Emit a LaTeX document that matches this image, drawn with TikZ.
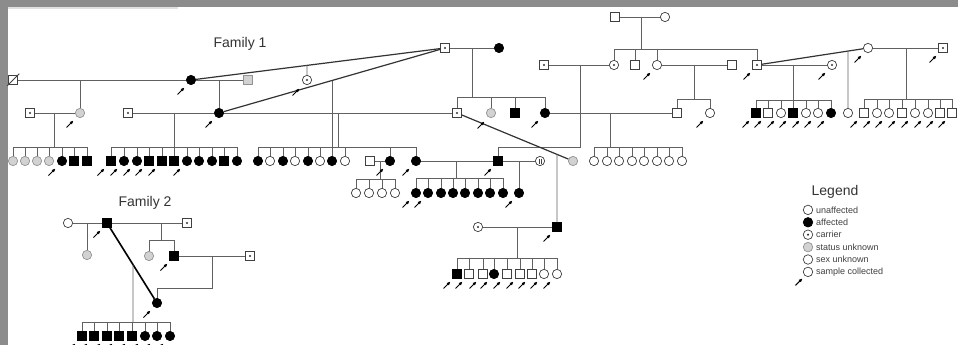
\documentclass[tikz,border=0pt]{standalone}
\usepackage{fontspec}
\setmainfont{Liberation Sans}
\usetikzlibrary{arrows.meta,calc}
\tikzset{
  ln/.style={draw=black!62,line width=0.8pt},
  lnk/.style={draw=black!80,line width=1.2pt},
  sym/.style={draw=black!75,line width=0.7pt,inner sep=0pt,minimum size=9.3pt,fill=white},
  pm/.style={sym,rectangle,minimum size=8.8pt},
  pf/.style={sym,circle},
  pma/.style={pm,fill=black,draw=black},
  pfa/.style={pf,fill=black,draw=black},
  pmu/.style={pm,fill=gray!35,draw=gray!85},
  pfu/.style={pf,fill=gray!35,draw=gray!85},
  cdot/.style={path picture={\fill[black!80] (path picture bounding box.center) circle[radius=1.2pt];}},
  pmc/.style={pm,cdot},
  pfc/.style={pf,cdot},
  smp/.pic={\draw[black,line width=1pt,-{Latex[length=3.8pt,width=3.5pt]}] (-4.5,4.5) -- (2.5,-2.5);},
  lab/.style={font=\fontsize{14}{14}\selectfont,text=black!80,inner sep=0pt},
  leg/.style={font=\fontsize{9}{10}\selectfont,text=black!75,anchor=west,inner sep=0pt}
}
\begin{document}
\begin{tikzpicture}[x=1pt,y=-1pt]
\useasboundingbox (0,0) rectangle (958,345);
\fill[white] (0,0) rectangle (958,345);
\fill[black!45] (0,0) rectangle (958,7.5);
\fill[black!45] (0,0) rectangle (8,345);
\fill[black!12] (8,7.5) rectangle (178,9.5);

\node[lab] (fam1) at (240,44) {Family 1};
\node[lab] (fam2) at (145,203) {Family 2};

% ---------- Family 1 : single nodes ----------
\node[pm] (a1) at (13,80) {};
\node[pfa] (a2) at (191,80) {};
\node[pmu] (a3) at (248,80) {};
\node[pfc] (a4) at (307,80) {};
\node[pmc] (a5) at (445,48) {};
\node[pfa] (a6) at (499,48) {};

\node[pmc] (b1) at (30,113) {};
\node[pfu] (b2) at (80,113) {};
\node[pmc] (b3) at (128,113) {};
\node[pfa] (b4) at (219,113) {};
\node[pmc] (b5) at (457,113) {};
\node[pfu] (b6) at (491,113) {};
\node[pma] (b7) at (515,113) {};
\node[pfa] (b8) at (545,113) {};
\node[pm] (b9) at (677,113) {};
\node[pf] (b10) at (710,113) {};

\node[pm] (t1) at (615,17) {};
\node[pf] (t2) at (665,17) {};
\node[pmc] (c1) at (544,65) {};
\node[pfc] (c2) at (614,65) {};
\node[pm] (c3) at (635,65) {};
\node[pf] (c4) at (657,65) {};
\node[pm] (c5) at (732,65) {};
\node[pmc] (c6) at (757,65) {};
\node[pfc] (c7) at (832,65) {};
\node[pf] (c8) at (868,48) {};
\node[pmc] (c9) at (943,48) {};

\node[pm] (sp1) at (370,161) {};
\node[pma] (d1) at (498,161) {};
\node[pf] (d2) at (540,161) {};
\node[pfa] (d3) at (519,193) {};
\node[pfu] (g1) at (573,161) {};
\node[pma] (h1) at (557,227) {};
\node[pfc] (h2) at (478,227) {};
\node[pf] (e0) at (848,113) {};

% deceased slash and marks
\draw[black!75,line width=0.8pt] ($(a1.south west)+(-1,1)$) -- ($(a1.north east)+(1.5,-1.5)$);
\draw[black!75,line width=0.6pt] ($(d2.center)+(-1.2,-2.5)$) -- ($(d2.center)+(-1.2,2.5)$);
\draw[black!75,line width=0.6pt] ($(d2.center)+(1.2,-2.5)$) -- ($(d2.center)+(1.2,2.5)$);

% ---------- sibships (rows) ----------
\foreach \x/\t [count=\i] in {13/pfu,25/pfu,37/pfu,49/pfu,62/pfa,74/pma,87/pma}
  {\node[\t] (sa\i) at (\x,161) {}; \draw[ln] (sa\i) -- (\x,147);}
\foreach \x/\t [count=\i] in {111/pma,124/pfa,137/pfa,149/pma,162/pma,174/pma,187/pfa,199/pfa,212/pfa,224/pma,237/pfa}
  {\node[\t] (sb\i) at (\x,161) {}; \draw[ln] (sb\i) -- (\x,147);}
\foreach \x/\t [count=\i] in {258/pfa,270/pf,283/pfa,295/pf,308/pfa,320/pf,332/pfa,345/pf,390/pfa,416/pfa}
  {\node[\t] (sc\i) at (\x,161) {}; \draw[ln] (sc\i) -- (\x,147);}
\foreach \x [count=\i] in {356,369,382,395}
  {\node[pf] (sd\i) at (\x,193) {}; \draw[ln] (sd\i) -- (\x,179);}
\foreach \x [count=\i] in {416,428,441,453,465,478,490,503}
  {\node[pfa] (se\i) at (\x,193) {}; \draw[ln] (se\i) -- (\x,178);}
\foreach \x [count=\i] in {594,607,619,632,644,657,669,682}
  {\node[pf] (sf\i) at (\x,161) {}; \draw[ln] (sf\i) -- (\x,147);}
\foreach \x/\t [count=\i] in {457/pma,469/pm,483/pm,494/pfa,507/pm,520/pm,532/pm,544/pf,557/pf}
  {\node[\t] (sg\i) at (\x,274) {}; \draw[ln] (sg\i) -- (\x,258); \pic at ($(sg\i)+(-9,10)$) {smp};}
\foreach \x/\t [count=\i] in {756/pma,768/pm,781/pf,793/pma,806/pf,818/pf,831/pfa}
  {\node[\t] (sh\i) at (\x,113) {}; \draw[ln] (sh\i) -- (\x,100); \pic at ($(sh\i)+(-9,10)$) {smp};}
\foreach \x/\t [count=\i] in {864/pm,877/pf,889/pf,902/pm,915/pf,928/pf,940/pm,952/pm}
  {\node[\t] (si\i) at (\x,113) {}; \draw[ln] (si\i) -- (\x,99); \pic at ($(si\i)+(-9,10)$) {smp};}

% ---------- Family 1 : connectors ----------
\draw[ln] (a1) -- (a2);
\draw[ln] (80,80) -- (b2);
\draw[ln] (a2) -- (a3);
\draw[ln] (219,80) -- (b4);
\draw[lnk] (a2) -- (a5);
\draw[ln] ($(a2)!0.4567!(a5)$) -- (a4);
\draw[lnk] (b4) -- (a5);
\draw[ln] ($(b4)!0.5!(a5)$) -- (332,147);
\draw[ln] (b1) -- (b2);
\draw[ln] (54,113) -- (54,147);
\draw[ln] (13,147) -- (87,147);
\draw[ln] (b3) -- (b4);
\draw[ln] (174,113) -- (174,147);
\draw[ln] (111,147) -- (237,147);
\draw[ln] (b4) -- (b5);
\draw[ln] (338,113) -- (338,147);
\draw[ln] (258,147) -- (416,147);

\draw[ln] (a5) -- (a6);
\draw[ln] (472,48) -- (472,97);
\draw[ln] (457,97) -- (545,97);
\foreach \n in {b5,b6,b7,b8} \draw[ln] (\n) -- (\n |- 0,97);

\draw[ln] (t1) -- (t2);
\draw[ln] (641,17) -- (641,49);
\draw[ln] (614,49) -- (757,49);
\foreach \n in {c2,c3,c4,c6} \draw[ln] (\n) -- (\n |- 0,49);

\draw[ln] (c1) -- (c2);
\draw[ln] (580,65) -- (580,147) -- (498,147) -- (d1);
\draw[ln] (c4) -- (c5);
\draw[ln] (694,65) -- (694,99);
\draw[ln] (677,99) -- (710,99);
\foreach \n in {b9,b10} \draw[ln] (\n) -- (\n |- 0,99);
\draw[ln] (b8) -- (b9);
\draw[ln] (610,113) -- (610,147);
\draw[ln] (594,147) -- (682,147);

\draw[ln] (c6) -- (c7);
\draw[ln] (793,65) -- (793,100);
\draw[ln] (756,100) -- (831,100);
\draw[lnk] (c6) -- (c8);
\draw[ln] ($(c6)!0.82!(c8)$) -- (e0);
\draw[ln] (c8) -- (c9);
\draw[ln] (906,48) -- (906,99);
\draw[ln] (864,99) -- (952,99);

\draw[ln] (sp1) -- (sc9);
\draw[ln] (380,161) -- (380,179);
\draw[ln] (356,179) -- (395,179);
\draw[ln] (sc10) -- (d1);
\draw[ln] (456,161) -- (456,178);
\draw[ln] (416,178) -- (503,178);
\draw[ln] (d1) -- (d2);
\draw[ln] (519,161) -- (d3);
\draw[lnk] (b5) -- (g1);
\draw[ln] ($(b5)!0.862!(g1)$) -- (h1);
\draw[ln] (h2) -- (h1);
\draw[ln] (517,227) -- (517,258);
\draw[ln] (457,258) -- (557,258);

% sample arrows, family 1
\foreach \n in {a2,b2,b4,b8,b10,c4,c6,c7,sa5,sb1,sb2,sb3,sb4,sb5,sb7,sc9,sc10,se1,se2,d1,d3,h1}
  \pic at ($(\n)+(-9,10)$) {smp};
\pic at ($(c8)+(-9,10)$) {smp};
\pic at ($(c9)+(-9,10)$) {smp};
\pic at (297,91) {smp};
\pic at (482,124) {smp};

% ---------- Family 2 ----------
\node[pf] (f1) at (68,223) {};
\node[pma] (f2) at (107,223) {};
\node[pmc] (f3) at (187,223) {};
\node[pfu] (f4) at (87,255) {};
\node[pfu] (f5) at (149,256) {};
\node[pma] (f6) at (174,256) {};
\node[pmc] (f7) at (250,256) {};
\node[pfa] (f8) at (157,303) {};
\foreach \x/\t [count=\i] in {82/pma,94/pma,107/pma,119/pma,132/pma,145/pfa,157/pfa,170/pfa}
  {\node[\t] (sj\i) at (\x,336) {}; \draw[ln] (sj\i) -- (\x,322); \pic at ($(sj\i)+(-9,10)$) {smp};}
\draw[ln] (f1) -- (f2);
\draw[ln] (87,223) -- (f4);
\draw[ln] (f2) -- (f3);
\draw[ln] (161,223) -- (161,240);
\draw[ln] (149,240) -- (174,240);
\foreach \n in {f5,f6} \draw[ln] (\n) -- (\n |- 0,240);
\draw[ln] (f6) -- (f7);
\draw[ln] (212,256) -- (212,288) -- (157,288) -- (f8);
\draw[black,line width=1.6pt] (f2) -- (f8);
\draw[ln] ($(f2)!0.52!(f8)$) -- (133,322);
\draw[ln] (82,322) -- (170,322);
\foreach \n in {f2,f6,f8} \pic at ($(\n)+(-9,10)$) {smp};

% ---------- Legend ----------
\node[lab] (legt) at (835,192) {Legend};
\foreach \t/\s [count=\i] in {unaffected/pf,affected/pfa,carrier/pfc,status unknown/pfu,sex unknown/pf,sample collected/pf}
  {\node[\s,minimum size=9.5pt] (lg\i) at (808,{197.5+12.4*\i}) {};
   \node[leg] (lt\i) at (816,{197.5+12.4*\i}) {\t};}
\pic at ($(lg6)+(-8,9)$) {smp};
\end{tikzpicture}
\end{document}
